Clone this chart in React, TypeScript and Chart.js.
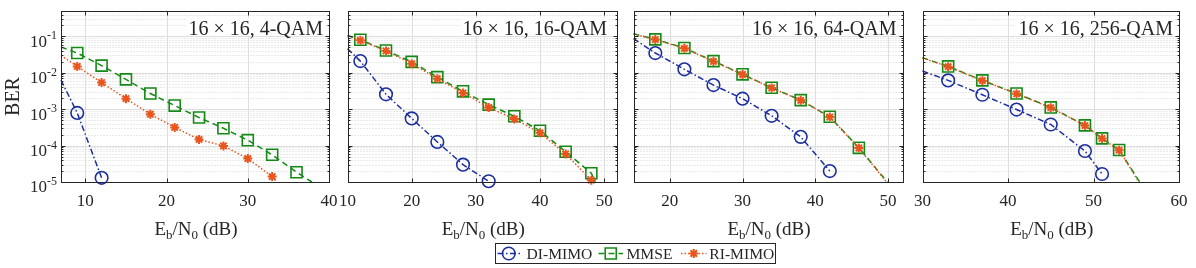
import React, { useEffect, useRef } from "react";
import { Chart, registerables } from "chart.js";

Chart.register(...registerables);

// ---------------- data ----------------
const panelTitles = ["16 × 16, 4-QAM", "16 × 16, 16-QAM", "16 × 16, 64-QAM", "16 × 16, 256-QAM"];
const xMins = [7, 10, 15, 30];
const xMaxs = [40, 52, 52, 60];
const xTickValues = [
  [10, 20, 30, 40],
  [10, 20, 30, 40, 50],
  [20, 30, 40, 50],
  [30, 40, 50, 60],
];
const Y_MIN = 1e-5;
const Y_MAX = 0.5;
const yDecades = [1e-5, 1e-4, 1e-3, 1e-2, 1e-1];
const yDecadeExps = ["-5", "-4", "-3", "-2", "-1"];
const seriesLabels = ["DI-MIMO", "MMSE", "RI-MIMO"];

// 4-QAM
const qam4DiEb = [7, 9, 12];
const qam4DiBer = [6.3e-3, 7.9e-4, 1.3e-5];
const qam4MmseEb = [7, 9, 12, 15, 18, 21, 24, 27, 30, 33, 36, 37.9];
const qam4MmseBer = [5.1e-2, 3.5e-2, 1.58e-2, 6.6e-3, 2.7e-3, 1.26e-3, 5.9e-4, 3.0e-4, 1.41e-4, 5.6e-5, 1.86e-5, 1e-5];
const qam4RiEb = [7, 9, 12, 15, 18, 21, 24, 27, 30, 33, 33.6];
const qam4RiBer = [3.0e-2, 1.5e-2, 5.4e-3, 1.95e-3, 7.3e-4, 3.16e-4, 1.48e-4, 9.8e-5, 4.4e-5, 1.41e-5, 1e-5];

// 16-QAM
const qam16DiEb = [10, 12, 16, 20, 24, 28, 32];
const qam16DiBer = [4.6e-2, 2.1e-2, 2.57e-3, 5.6e-4, 1.26e-4, 3.0e-5, 1.05e-5];
const qam16MmseEb = [10, 12, 16, 20, 24, 28, 32, 36, 40, 44, 48, 48.6];
const qam16MmseBer = [0.107, 0.081, 0.041, 0.02, 7.6e-3, 3.1e-3, 1.34e-3, 6.4e-4, 2.56e-4, 6.8e-5, 1.74e-5, 1e-5];
const qam16RiEb = [10, 12, 16, 20, 24, 28, 32, 36, 40, 44, 48, 48.2];
const qam16RiBer = [0.1, 0.078, 0.04, 0.0178, 6.9e-3, 2.8e-3, 1.12e-3, 5.4e-4, 2.24e-4, 5.9e-5, 1.12e-5, 1e-5];

// 64-QAM
const qam64DiEb = [15, 18, 22, 26, 30, 34, 38, 42];
const qam64DiBer = [0.087, 0.035, 0.0125, 4.6e-3, 1.95e-3, 6.6e-4, 1.74e-4, 2.0e-5];
const qam64MmseEb = [15, 18, 22, 26, 30, 34, 38, 42, 46, 49.9];
const qam64MmseBer = [0.118, 0.083, 0.048, 0.021, 9.1e-3, 3.9e-3, 1.78e-3, 6.2e-4, 8.7e-5, 1e-5];
const qam64RiEb = [15, 18, 22, 26, 30, 34, 38, 42, 46, 49.8];
const qam64RiBer = [0.117, 0.082, 0.047, 0.0205, 9.0e-3, 3.85e-3, 1.75e-3, 6.1e-4, 8.6e-5, 1e-5];

// 256-QAM
const qam256DiEb = [30, 33, 37, 41, 45, 49, 51];
const qam256DiBer = [0.0112, 6.2e-3, 2.5e-3, 9.8e-4, 3.8e-4, 7.1e-5, 1.66e-5];
const qam256MmseEb = [30, 33, 37, 41, 45, 49, 51, 53, 55.4];
const qam256MmseBer = [0.026, 0.015, 6.2e-3, 2.7e-3, 1.12e-3, 3.6e-4, 1.58e-4, 7.6e-5, 1e-5];
const qam256RiEb = [30, 33, 37, 41, 45, 49, 51, 53, 55.3];
const qam256RiBer = [0.0255, 0.0148, 6.1e-3, 2.65e-3, 1.1e-3, 3.55e-4, 1.56e-4, 7.5e-5, 1e-5];

const panelSeries = [
  [[qam4DiEb, qam4DiBer], [qam4MmseEb, qam4MmseBer], [qam4RiEb, qam4RiBer]],
  [[qam16DiEb, qam16DiBer], [qam16MmseEb, qam16MmseBer], [qam16RiEb, qam16RiBer]],
  [[qam64DiEb, qam64DiBer], [qam64MmseEb, qam64MmseBer], [qam64RiEb, qam64RiBer]],
  [[qam256DiEb, qam256DiBer], [qam256MmseEb, qam256MmseBer], [qam256RiEb, qam256RiBer]],
];

// ---------------- layout / style ----------------
const W = 1196;
const H = 268;
const FONT = '"Liberation Serif", "Times New Roman", serif';
const INK = "rgb(38,38,38)";
const plotLeft = [61, 347.5, 633.5, 922.5];
const plotRight = [329, 617, 902.5, 1179];
const PLOT_TOP = 11;
const PLOT_BOTTOM = 182;
const titleRightInset = [6, 10, 6, 6];

const seriesStyles = [
  { color: "#1c2f9e", dash: [6, 2.5, 1.5, 2.5], pointStyle: "circle", radius: 6.3, markerWidth: 1.6, order: 2 },
  { color: "#148a14", dash: [6, 4], pointStyle: "rect", radius: 7.8, markerWidth: 1.6, order: 1 },
  { color: "#e8561e", dash: [1.5, 2], pointStyle: "star", radius: 4.5, markerWidth: 2, order: 0 },
];

const legendItems = [
  { x0: 497.5, x1: 520, tx: 526.5 },
  { x0: 598.5, x1: 623, tx: 626.5 },
  { x0: 681, x1: 706.5, tx: 709.3 },
];

function toPoints(xs: number[], ys: number[]) {
  return xs.map((x, i) => ({ x, y: ys[i] }));
}

function drawMarker(ctx: CanvasRenderingContext2D, style: string, cx: number, cy: number, r: number) {
  ctx.beginPath();
  if (style === "circle") {
    ctx.arc(cx, cy, r, 0, Math.PI * 2);
  } else if (style === "rect") {
    const h = r * Math.SQRT1_2;
    ctx.rect(cx - h, cy - h, 2 * h, 2 * h);
  } else {
    for (let k = 0; k < 4; k++) {
      const a = (k * Math.PI) / 4;
      ctx.moveTo(cx - Math.cos(a) * r, cy - Math.sin(a) * r);
      ctx.lineTo(cx + Math.cos(a) * r, cy + Math.sin(a) * r);
    }
  }
  ctx.stroke();
}

function drawEbN0(ctx: CanvasRenderingContext2D, cx: number, baseline: number) {
  const big = `19px ${FONT}`;
  const small = `13px ${FONT}`;
  const parts: [string, string, number][] = [
    ["E", big, 0],
    ["b", small, 4],
    ["/N", big, 0],
    ["0", small, 4],
    [" (dB)", big, 0],
  ];
  let total = 0;
  const widths = parts.map(([t, f]) => {
    ctx.font = f;
    const w = ctx.measureText(t).width;
    total += w;
    return w;
  });
  let x = cx - total / 2;
  ctx.textAlign = "left";
  ctx.textBaseline = "alphabetic";
  parts.forEach(([t, f, dy], k) => {
    ctx.font = f;
    ctx.fillText(t, x, baseline + dy);
    x += widths[k];
  });
}

function makeDecoPlugin(i: number) {
  return {
    id: "deco" + i,
    beforeDatasetsDraw(chart: any) {
      const { ctx, chartArea: a, scales } = chart;
      const xs = scales.x;
      const ys = scales.y;
      const L = Math.round(a.left) + 0.5;
      const R = Math.round(a.right) + 0.5;
      const T = Math.round(a.top) + 0.5;
      const B = Math.round(a.bottom) + 0.5;
      ctx.save();
      ctx.lineWidth = 1;
      // minor y grid (dotted)
      ctx.strokeStyle = "rgb(212,212,212)";
      ctx.setLineDash([1, 2]);
      yDecades.forEach((d) => {
        for (let m = 2; m <= 9; m++) {
          const v = m * d;
          if (v >= Y_MAX) continue;
          const py = Math.round(ys.getPixelForValue(v)) + 0.5;
          ctx.beginPath();
          ctx.moveTo(L, py);
          ctx.lineTo(R, py);
          ctx.stroke();
        }
      });
      // major grid
      ctx.setLineDash([]);
      ctx.strokeStyle = "rgb(222,222,222)";
      yDecades.forEach((d) => {
        const py = Math.round(ys.getPixelForValue(d)) + 0.5;
        if (py >= B - 1) return;
        ctx.beginPath();
        ctx.moveTo(L, py);
        ctx.lineTo(R, py);
        ctx.stroke();
      });
      xTickValues[i].forEach((t) => {
        const px = Math.round(xs.getPixelForValue(t)) + 0.5;
        if (px <= L + 1 || px >= R - 1) return;
        ctx.beginPath();
        ctx.moveTo(px, T);
        ctx.lineTo(px, B);
        ctx.stroke();
      });
      ctx.restore();
    },
    afterDatasetsDraw(chart: any) {
      const { ctx, chartArea: a, scales } = chart;
      const xs = scales.x;
      const ys = scales.y;
      const L = Math.round(a.left) + 0.5;
      const R = Math.round(a.right) + 0.5;
      const T = Math.round(a.top) + 0.5;
      const B = Math.round(a.bottom) + 0.5;
      ctx.save();
      ctx.setLineDash([]);
      ctx.strokeStyle = INK;
      ctx.lineWidth = 1;
      // ticks (inward)
      ctx.beginPath();
      xTickValues[i].forEach((t) => {
        const px = Math.round(xs.getPixelForValue(t)) + 0.5;
        ctx.moveTo(px, B);
        ctx.lineTo(px, B - 4);
        ctx.moveTo(px, T);
        ctx.lineTo(px, T + 4);
      });
      yDecades.forEach((d) => {
        for (let m = 1; m <= 9; m++) {
          const v = m * d;
          if (v >= Y_MAX) continue;
          const py = Math.round(ys.getPixelForValue(v)) + 0.5;
          const len = m === 1 ? 4 : 2;
          ctx.moveTo(L, py);
          ctx.lineTo(L + len, py);
          ctx.moveTo(R, py);
          ctx.lineTo(R - len, py);
        }
      });
      ctx.stroke();
      // box
      ctx.strokeRect(L, T, R - L, B - T);

      // x tick labels
      ctx.fillStyle = INK;
      ctx.font = `17px ${FONT}`;
      ctx.textAlign = "center";
      ctx.textBaseline = "alphabetic";
      xTickValues[i].forEach((t) => {
        ctx.fillText(String(t), xs.getPixelForValue(t), 206);
      });

      // x axis title
      drawEbN0(ctx, (a.left + a.right) / 2 + 1, 234.5);

      // panel title with white background
      ctx.font = `20px ${FONT}`;
      const title = panelTitles[i];
      const tw = ctx.measureText(title).width;
      const tx = a.right - titleRightInset[i];
      ctx.fillStyle = "#fff";
      ctx.fillRect(tx - tw - 2, 18, tw + 4, 17.5);
      ctx.fillStyle = INK;
      ctx.textAlign = "right";
      ctx.fillText(title, tx, 35);

      if (i === 0) {
        // y tick labels with superscript exponents
        yDecades.forEach((d, k) => {
          const gy = ys.getPixelForValue(d);
          const sup = yDecadeExps[k];
          ctx.font = `12px ${FONT}`;
          const ws = ctx.measureText(sup).width;
          ctx.font = `17px ${FONT}`;
          const wb = ctx.measureText("10").width;
          const right = 57;
          ctx.textAlign = "left";
          ctx.fillText("10", right - ws - wb, gy + 10.3);
          ctx.font = `12px ${FONT}`;
          ctx.fillText(sup, right - ws, gy + 3);
        });
        // y axis title
        ctx.save();
        ctx.translate(14, (a.top + a.bottom) / 2);
        ctx.rotate(-Math.PI / 2);
        ctx.font = `20px ${FONT}`;
        ctx.textAlign = "center";
        ctx.textBaseline = "middle";
        ctx.fillText("BER", 0, 0);
        ctx.restore();

        // legend
        ctx.fillStyle = "#fff";
        ctx.fillRect(495.5, 243.5, 280, 20);
        ctx.strokeStyle = INK;
        ctx.lineWidth = 1;
        ctx.strokeRect(495.5, 243.5, 280, 20);
        const ly = 253.5;
        legendItems.forEach((it, k) => {
          const s = seriesStyles[k];
          ctx.strokeStyle = s.color;
          ctx.lineWidth = 1.5;
          ctx.setLineDash(s.dash);
          ctx.beginPath();
          ctx.moveTo(it.x0, ly);
          ctx.lineTo(it.x1, ly);
          ctx.stroke();
          ctx.setLineDash([]);
          ctx.lineWidth = s.markerWidth;
          drawMarker(ctx, s.pointStyle, (it.x0 + it.x1) / 2, ly, s.radius);
          ctx.fillStyle = INK;
          ctx.font = `15.6px ${FONT}`;
          ctx.textAlign = "left";
          ctx.textBaseline = "alphabetic";
          ctx.fillText(seriesLabels[k], it.tx, 258.8);
        });
      }
      ctx.restore();
    },
  };
}

function makeConfig(i: number): any {
  const xMin = xMins[i];
  const radiusFor = (r: number) => (c: any) => {
    const p = c.raw;
    if (!p) return r;
    return p.x <= xMin + 1e-9 || p.y <= Y_MIN * 1.001 ? 0 : r;
  };
  const datasets = seriesStyles.map((s, k) => ({
    label: seriesLabels[k],
    data: toPoints(panelSeries[i][k][0], panelSeries[i][k][1]),
    borderColor: s.color,
    borderWidth: 1.5,
    borderDash: s.dash,
    pointStyle: s.pointStyle,
    pointRadius: radiusFor(s.radius),
    pointHoverRadius: radiusFor(s.radius),
    pointBorderWidth: s.markerWidth,
    pointBorderColor: s.color,
    pointBackgroundColor: "rgba(0,0,0,0)",
    fill: false,
    tension: 0,
    clip: false,
    order: s.order,
  }));
  return {
    type: "line",
    data: { datasets },
    options: {
      animation: false,
      responsive: false,
      devicePixelRatio: 1,
      events: [],
      layout: {
        padding: { left: plotLeft[i], right: W - plotRight[i], top: PLOT_TOP, bottom: H - PLOT_BOTTOM },
      },
      scales: {
        x: { type: "linear", min: xMins[i], max: xMaxs[i], display: false },
        y: { type: "logarithmic", min: Y_MIN, max: Y_MAX, display: false },
      },
      plugins: { legend: { display: false }, tooltip: { enabled: false } },
    },
    plugins: [makeDecoPlugin(i)],
  };
}

export default function App() {
  const r0 = useRef<HTMLCanvasElement>(null);
  const r1 = useRef<HTMLCanvasElement>(null);
  const r2 = useRef<HTMLCanvasElement>(null);
  const r3 = useRef<HTMLCanvasElement>(null);
  const refs = [r0, r1, r2, r3];

  useEffect(() => {
    const charts = refs.map((r, i) => new Chart(r.current as HTMLCanvasElement, makeConfig(i)));
    return () => charts.forEach((c) => c.destroy());
  }, []);

  return (
    <div style={{ position: "fixed", left: 0, top: 0, width: W, height: H, background: "#fff", overflow: "hidden" }}>
      {refs.map((r, i) => (
        <canvas
          key={i}
          ref={r}
          width={W}
          height={H}
          style={{ position: "absolute", left: 0, top: 0, width: W, height: H }}
        />
      ))}
    </div>
  );
}
